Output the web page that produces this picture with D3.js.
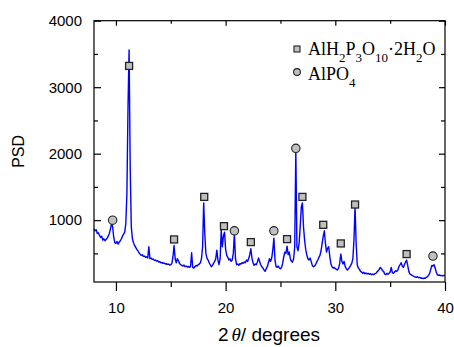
<!DOCTYPE html>
<html>
<head>
<meta charset="utf-8">
<script src="https://cdn.jsdelivr.net/npm/d3@7/dist/d3.min.js"></script>
<style>
  html, body { margin: 0; padding: 0; background: #fff; }
  svg { display: block; }
</style>
</head>
<body>
<div id="chart"></div>
<script>
// ---- data ----
// 2θ grid: 8.0 … 40.0 in 0.1° steps
const twoThetaStart = 8.0;
const twoThetaStep = 0.1;
const psd = [
  // 8.x
  870, 840, 855, 800, 810, 770, 740, 760, 700, 720,
  // 9.x
  690, 710, 730, 760, 800, 870, 950, 900, 740, 660,
  // 10.x
  650, 680, 640, 670, 690, 720, 760, 790, 820, 950,
  // 11.x
  1400, 2700, 3560, 1800, 900, 720, 660, 620, 590, 560,
  // 12.x
  540, 510, 490, 470, 480, 455, 460, 440, 450, 430,
  // 13.x
  600, 420, 430, 410, 415, 395, 400, 385, 390, 370,
  // 14.x
  375, 360, 365, 350, 355, 340, 345, 335, 340, 325,
  // 15.x
  330, 350, 450, 620, 420, 360, 420, 390, 350, 330,
  // 16.x
  320, 310, 325, 300, 310, 295, 305, 290, 300, 510,
  // 17.x
  290, 280, 300, 320, 310, 330, 340, 360, 420, 600,
  // 18.x
  1260, 800, 500, 430, 400, 360, 330, 300, 320, 350,
  // 19.x
  380, 420, 550, 400, 330, 420, 850, 600, 760, 820,
  // 20.x
  560, 470, 440, 400, 420, 380, 400, 500, 800, 420,
  // 21.x
  330, 340, 320, 345, 340, 360, 350, 370, 360, 400,
  // 22.x
  380, 420, 480, 570, 430, 360, 320, 340, 330, 370,
  // 23.x
  430, 380, 330, 300, 280, 250, 230, 270, 300, 360,
  // 24.x
  420, 380, 430, 550, 730, 400, 300, 290, 310, 280,
  // 25.x
  270, 290, 350, 450, 520, 500, 610, 480, 520, 420,
  // 26.x
  380, 370, 420, 600, 2050, 600, 540, 650, 900, 1200,
  // 27.x
  1260, 900, 700, 560, 480, 420, 400, 430, 380, 320,
  // 28.x
  300, 310, 330, 370, 400, 440, 470, 540, 650, 760,
  // 29.x
  840, 650, 520, 580, 600, 450, 340, 300, 280, 290,
  // 30.x
  270, 260, 250, 280, 350, 490, 380, 340, 380, 300,
  // 31.x
  270, 250, 270, 290, 320, 350, 420, 700, 1200, 650,
  // 32.x
  330, 280, 260, 230, 220, 200, 215, 195, 205, 190,
  // 33.x
  200, 185, 195, 180, 190, 180, 195, 200, 220, 240,
  // 34.x
  260, 290, 270, 240, 230, 190, 180, 200, 185, 200,
  // 35.x
  220, 290, 210, 200, 220, 240, 230, 250, 300, 330,
  // 36.x
  360, 310, 290, 330, 370, 400, 320, 230, 190, 180,
  // 37.x
  170, 160, 150, 145, 140, 150, 135, 140, 125, 130,
  // 38.x
  120, 130, 125, 140, 150, 170, 200, 260, 320, 310,
  // 39.x
  330, 280, 220, 180, 170, 175, 165, 170, 160, 170,
  // 40.0
  170
];

// phase markers
const squareTheta = [11.2, 15.3, 18.05, 19.85, 22.3, 25.6, 27.0, 28.9, 30.5, 31.8, 36.5];
const squarePSD   = [3320, 710, 1350, 910, 670, 715, 1350, 930, 650, 1235, 490];
const circleTheta = [9.7, 20.8, 24.4, 26.4, 38.9];
const circlePSD   = [1000, 840, 840, 2080, 460];

// axes ticks
const xMajorTicks = [10, 20, 30, 40];
const xMinorTicks = [15, 25, 35];
const yMajorTicks = [1000, 2000, 3000, 4000];
const yMinorTicks = [500, 1500, 2500, 3500];
const xDomain = [8, 40];
const yDomain = [70, 4000];

// ---- drawing ----
const W = 454, H = 347;
const M = { left: 94, right: 445, top: 20.7, bottom: 282 };

const svg = d3.select("#chart").append("svg")
  .attr("width", W).attr("height", H);

const x = d3.scaleLinear().domain(xDomain).range([M.left, M.right]);
const y = d3.scaleLinear().domain(yDomain).range([M.bottom, M.top]);

const pattern = psd.map((v, i) => [twoThetaStart + i * twoThetaStep, v]);

// curve
svg.append("path")
  .datum(pattern)
  .attr("fill", "none")
  .attr("stroke", "#0000ff")
  .attr("stroke-width", 1.4)
  .attr("stroke-linejoin", "round")
  .attr("d", d3.line().x(d => x(d[0])).y(d => y(d[1])));

// frame
svg.append("rect")
  .attr("x", M.left).attr("y", M.top)
  .attr("width", M.right - M.left).attr("height", M.bottom - M.top)
  .attr("fill", "none").attr("stroke", "#000").attr("stroke-width", 1.2);

const tickFont = "'Liberation Sans', Arial, sans-serif";

// bottom axis: outward ticks
const gB = svg.append("g").attr("transform", `translate(0,${M.bottom})`);
gB.call(d3.axisBottom(x).tickValues(xMajorTicks).tickSize(9).tickPadding(11).tickFormat(d3.format("d")));
gB.append("g").call(d3.axisBottom(x).tickValues(xMinorTicks).tickSize(5).tickFormat(""));
// top axis: inward
const gT = svg.append("g").attr("transform", `translate(0,${M.top})`);
gT.call(d3.axisTop(x).tickValues(xMajorTicks).tickSize(-5).tickFormat(""));
gT.append("g").call(d3.axisTop(x).tickValues(xMinorTicks).tickSize(-3).tickFormat(""));
// left axis: inward ticks
const gL = svg.append("g").attr("transform", `translate(${M.left},0)`);
gL.call(d3.axisLeft(y).tickValues(yMajorTicks).tickSize(-7).tickPadding(12).tickFormat(d3.format("d")));
gL.append("g").call(d3.axisLeft(y).tickValues(yMinorTicks).tickSize(-4).tickFormat(""));
// right axis: inward ticks
const gR = svg.append("g").attr("transform", `translate(${M.right},0)`);
gR.call(d3.axisRight(y).tickValues(yMajorTicks).tickSize(-6).tickFormat(""));
gR.append("g").call(d3.axisRight(y).tickValues(yMinorTicks).tickSize(-4).tickFormat(""));

svg.selectAll(".domain").remove();
svg.selectAll(".tick line").attr("stroke", "#000").attr("stroke-width", 1.2);
svg.selectAll(".tick text")
  .attr("fill", "#000")
  .style("font-family", tickFont)
  .style("font-size", "15px");

// markers
const markerFill = "#c0c0c0";
const markerStroke = "#222";
svg.append("g").selectAll("rect")
  .data(squareTheta.map((t, i) => [t, squarePSD[i]]))
  .join("rect")
  .attr("x", d => x(d[0]) - 3.5).attr("y", d => y(d[1]) - 3.5)
  .attr("width", 7).attr("height", 7)
  .attr("fill", markerFill).attr("stroke", markerStroke).attr("stroke-width", 1.3);
svg.append("g").selectAll("circle")
  .data(circleTheta.map((t, i) => [t, circlePSD[i]]))
  .join("circle")
  .attr("cx", d => x(d[0])).attr("cy", d => y(d[1]))
  .attr("r", 4.2)
  .attr("fill", markerFill).attr("stroke", markerStroke).attr("stroke-width", 1.1);

// axis titles
svg.append("text")
  .attr("transform", `translate(24,${(M.top + M.bottom) / 2}) rotate(-90)`)
  .attr("text-anchor", "middle")
  .style("font-family", tickFont).style("font-size", "16px")
  .text("PSD");

const xt = svg.append("text")
  .attr("x", 269).attr("y", 341)
  .attr("text-anchor", "middle")
  .style("font-family", tickFont).style("font-size", "19px");
xt.append("tspan").text("2");
xt.append("tspan").attr("dx", 3).style("font-family", "'Liberation Serif', 'Times New Roman', serif")
  .style("font-style", "italic").text("θ");
xt.append("tspan").text("/ degrees");

// legend
const legFont = "'Liberation Serif', 'Times New Roman', serif";
const lg = svg.append("g");
lg.append("rect").attr("x", 294).attr("y", 46).attr("width", 6).attr("height", 6)
  .attr("fill", markerFill).attr("stroke", markerStroke).attr("stroke-width", 1.1);
lg.append("circle").attr("cx", 297).attr("cy", 72).attr("r", 3.4)
  .attr("fill", markerFill).attr("stroke", markerStroke).attr("stroke-width", 1.1);

function chem(g, xPos, yPos, parts) {
  const t = g.append("text").attr("x", xPos).attr("y", yPos)
    .style("font-family", legFont).style("font-size", "18px").attr("fill", "#000");
  let shift = 0;
  parts.forEach(p => {
    if (p.sub) {
      t.append("tspan").attr("dy", 7 - shift).style("font-size", "13px").text(p.sub);
      shift = 7;
    } else {
      t.append("tspan").attr("dy", -shift).text(p.t);
      shift = 0;
    }
  });
}
chem(lg, 308, 55, [
  {t: "AlH"}, {sub: "2"}, {t: "P"}, {sub: "3"}, {t: "O"}, {sub: "10"},
  {t: "·2H"}, {sub: "2"}, {t: "O"}
]);
chem(lg, 308, 80, [{t: "AlPO"}, {sub: "4"}]);
</script>
</body>
</html>
